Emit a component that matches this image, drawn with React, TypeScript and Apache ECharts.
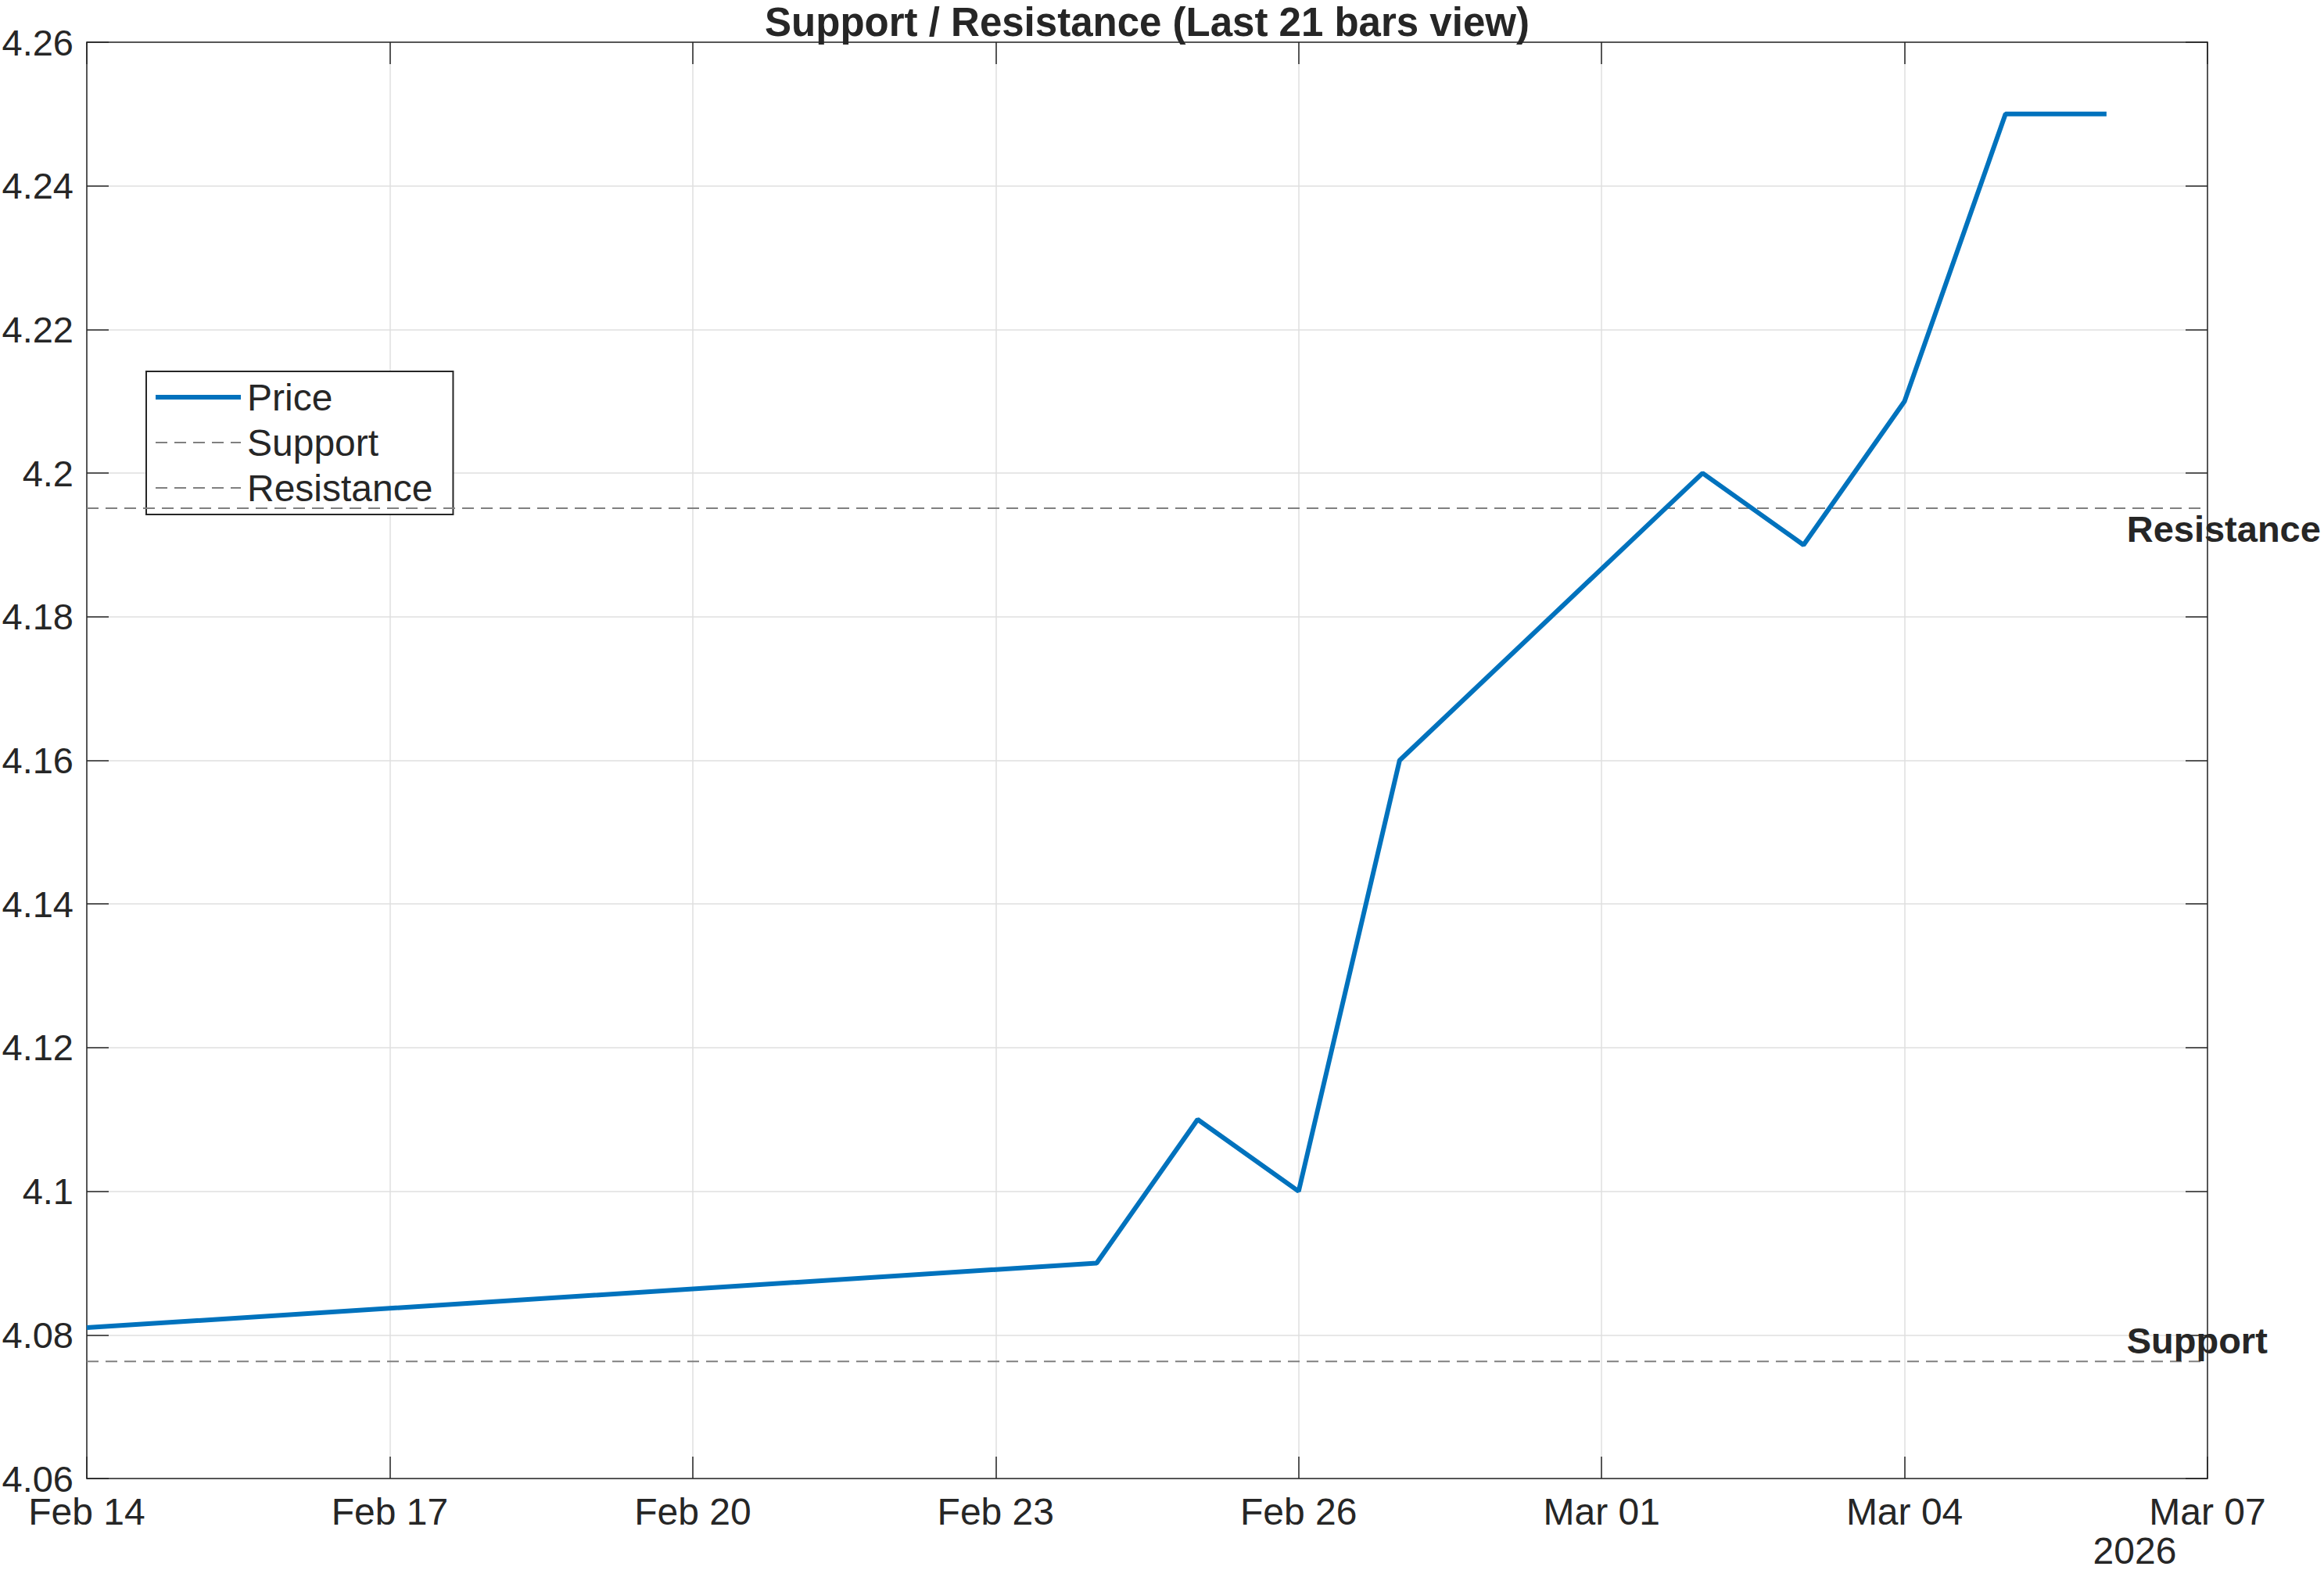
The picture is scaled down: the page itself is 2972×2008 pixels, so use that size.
import React, { useEffect, useRef } from 'react';
import * as echarts from 'echarts';

// ---- data ----
const baseDate = '2026-02-14';
const endDate = '2026-03-07';
const dates = ['2026-02-14', '2026-02-24', '2026-02-25', '2026-02-26', '2026-02-27', '2026-03-02', '2026-03-03', '2026-03-04', '2026-03-05', '2026-03-06'];
const prices = [4.081, 4.09, 4.11, 4.10, 4.16, 4.20, 4.19, 4.21, 4.25, 4.25];
const supportLevel = 4.0763;
const resistanceLevel = 4.1951;
const xTickLabels = ['Feb 14', 'Feb 17', 'Feb 20', 'Feb 23', 'Feb 26', 'Mar 01', 'Mar 04', 'Mar 07'];
const yTickLabels = ['4.06', '4.08', '4.1', '4.12', '4.14', '4.16', '4.18', '4.2', '4.22', '4.24', '4.26'];
const seriesNames = ['Price', 'Support', 'Resistance'];
const titleText = 'Support / Resistance (Last 21 bars view)';
const yearLabel = '2026';
const labelDayOffset = 20.2;

const FONT = '"Liberation Sans", Arial, Helvetica, sans-serif';
const AXIS = '#262626';
const GRIDC = '#dfdfdf';

function dayOffset(d: string): number {
  const [y, m, dd] = d.split('-').map(Number);
  const [by, bm, bd] = baseDate.split('-').map(Number);
  return (Date.UTC(y, m - 1, dd) - Date.UTC(by, bm - 1, bd)) / 86400000;
}

export default function App() {
  const ref = useRef<HTMLDivElement>(null);
  useEffect(() => {
    if (!ref.current) return;
    const chart = echarts.init(ref.current, undefined, { renderer: 'svg' });
    const xMax = dayOffset(endDate);
    const yMin = 4.06, yMax = 4.26, yInt = 0.02;
    const axisLine = { show: true, onZero: false, lineStyle: { color: AXIS, width: 1.5 } };
    const axisTick = { show: true, inside: true, length: 28, lineStyle: { color: AXIS, width: 1.5 } };
    const xBase = { type: 'value', min: 0, max: xMax, interval: 3 };
    const yBase = { type: 'value', min: yMin, max: yMax, interval: yInt };
    const dash = [15, 9];
    chart.setOption({
      animation: false,
      backgroundColor: '#ffffff',
      grid: { left: 111, right: 149, top: 54, bottom: 117, containLabel: false, outerBoundsMode: 'none' },
      xAxis: [
        {
          ...xBase, position: 'bottom', axisLine, axisTick,
          axisLabel: {
            show: true, showMinLabel: true, showMaxLabel: true, margin: 18,
            fontSize: 48, color: AXIS, fontFamily: FONT, hideOverlap: false,
            formatter: (v: number) => xTickLabels[Math.round(v / 3)] ?? '',
          },
          splitLine: { show: true, lineStyle: { color: GRIDC, width: 1.5 } },
        },
        { ...xBase, position: 'top', axisLine, axisTick, axisLabel: { show: false }, splitLine: { show: false } },
      ],
      yAxis: [
        {
          ...yBase, position: 'left', axisLine, axisTick,
          axisLabel: {
            show: true, showMinLabel: true, showMaxLabel: true, margin: 17,
            fontSize: 47, color: AXIS, fontFamily: FONT, hideOverlap: false,
            formatter: (v: number) => yTickLabels[Math.round((v - yMin) / yInt)] ?? '',
          },
          splitLine: { show: true, lineStyle: { color: GRIDC, width: 1.5 } },
        },
        { ...yBase, position: 'right', axisLine, axisTick, axisLabel: { show: false }, splitLine: { show: false } },
      ],
      legend: {
        orient: 'vertical', left: 187, top: 475,
        padding: [8, 26, 9, 9],
        itemWidth: 109, itemHeight: 2, itemGap: 8,
        backgroundColor: '#ffffff', borderColor: AXIS, borderWidth: 2,
        itemStyle: { opacity: 0 },
        textStyle: { fontSize: 48, lineHeight: 50, color: AXIS, fontFamily: FONT, padding: [0, 0, 0, 3] },
        data: [
          { name: seriesNames[0], itemStyle: { opacity: 0 }, lineStyle: { width: 6, color: '#0072BD' } },
          { name: seriesNames[1], itemStyle: { opacity: 0 }, lineStyle: { width: 2, color: '#808080', type: dash } },
          { name: seriesNames[2], itemStyle: { opacity: 0 }, lineStyle: { width: 2, color: '#808080', type: dash } },
        ],
      },
      series: [
        {
          name: seriesNames[0], type: 'line', symbol: 'none', z: 5,
          data: prices.map((p, i) => [dayOffset(dates[i]), p]),
          lineStyle: { color: '#0072BD', width: 6 }, itemStyle: { color: '#0072BD' },
        },
        {
          name: seriesNames[1], type: 'line', symbol: 'none', z: 4,
          data: [[0, supportLevel], [xMax, supportLevel]],
          lineStyle: { color: '#808080', width: 2, type: dash }, itemStyle: { color: '#808080' },
        },
        {
          name: seriesNames[2], type: 'line', symbol: 'none', z: 4,
          data: [[0, resistanceLevel], [xMax, resistanceLevel]],
          lineStyle: { color: '#808080', width: 2, type: dash }, itemStyle: { color: '#808080' },
        },
      ],
    });
    const rp = chart.convertToPixel({ xAxisIndex: 0, yAxisIndex: 0 }, [labelDayOffset, resistanceLevel]) as number[];
    const sp = chart.convertToPixel({ xAxisIndex: 0, yAxisIndex: 0 }, [labelDayOffset, supportLevel]) as number[];
    const endPx = chart.convertToPixel({ xAxisIndex: 0, yAxisIndex: 0 }, [xMax, yMin]) as number[];
    const startPx = chart.convertToPixel({ xAxisIndex: 0, yAxisIndex: 0 }, [0, yMax]) as number[];
    chart.setOption({
      graphic: [
        {
          type: 'text', x: (startPx[0] + endPx[0]) / 2, y: 28, z: 10,
          style: { text: titleText, fontSize: 51, fontWeight: 'bold', fontFamily: FONT, fill: AXIS, align: 'center', verticalAlign: 'middle' },
        },
        {
          type: 'text', x: rp[0], y: rp[1] + 26, z: 10,
          style: { text: 'Resistance', fontSize: 47, fontWeight: 'bold', fontFamily: FONT, fill: AXIS, align: 'left', verticalAlign: 'middle' },
        },
        {
          type: 'text', x: sp[0], y: sp[1] - 27, z: 10,
          style: { text: 'Support', fontSize: 47, fontWeight: 'bold', fontFamily: FONT, fill: AXIS, align: 'left', verticalAlign: 'middle' },
        },
        {
          type: 'text', x: endPx[0] - 93, y: endPx[1] + 92, z: 10,
          style: { text: yearLabel, fontSize: 48, fontFamily: FONT, fill: AXIS, align: 'center', verticalAlign: 'middle' },
        },
      ],
    });
    return () => chart.dispose();
  }, []);
  return <div ref={ref} style={{ position: 'absolute', left: 0, top: 0, width: 2972, height: 2008 }} />;
}
